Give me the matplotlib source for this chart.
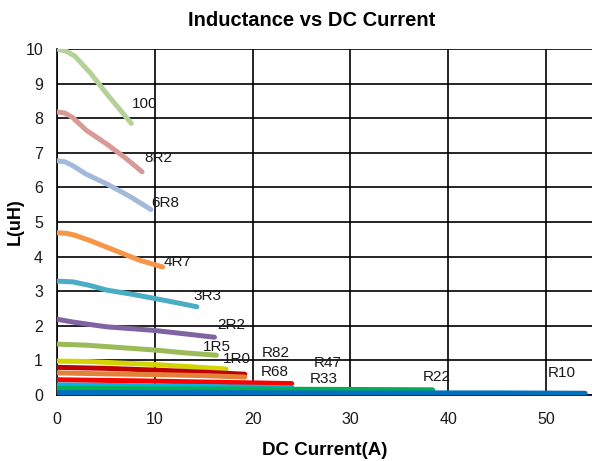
import matplotlib
matplotlib.use("Agg")
import matplotlib.pyplot as plt

plt.rcParams['font.family'] = ['Liberation Sans', 'DejaVu Sans']

# part names and colours (Excel-like palette)
names = ["100", "8R2", "6R8", "4R7", "3R3", "2R2", "1R5", "1R0",
         "R82", "R68", "R47", "R33", "R22", "R10"]
colors = ["#b4d198", "#d99a97", "#a3b9db", "#f79646", "#4bacc6", "#8064a2",
          "#9bbb59", "#d4d400", "#c00000", "#e2813a", "#ff0000", "#00b0f0",
          "#00b050", "#0070c0"]

# current (A) and inductance (uH)
x_100 = [0, 1, 1.8, 3.4, 5.1, 7.6]
y_100 = [10.0, 9.93, 9.8, 9.31, 8.7, 7.85]
x_8r2 = [0, 0.8, 1.6, 3, 5.1, 7, 8.7]
y_8r2 = [8.18, 8.15, 8.02, 7.65, 7.25, 6.85, 6.45]
x_6r8 = [0, 0.8, 1.6, 3, 5.1, 7.5, 9.6]
y_6r8 = [6.77, 6.74, 6.63, 6.38, 6.1, 5.73, 5.36]
x_4r7 = [0, 1, 1.8, 3.5, 5.1, 6.8, 8.5, 10.8]
y_4r7 = [4.69, 4.67, 4.62, 4.45, 4.27, 4.08, 3.89, 3.7]
x_3r3 = [0, 1.6, 3.3, 5.1, 7.5, 9.8, 12, 14.3]
y_3r3 = [3.29, 3.27, 3.17, 3.03, 2.92, 2.8, 2.68, 2.55]
x_2r2 = [0, 1.6, 3.3, 5.1, 7.5, 9.8, 13, 16.1]
y_2r2 = [2.19, 2.11, 2.04, 1.97, 1.92, 1.87, 1.77, 1.67]
x_1r5 = [0, 3, 6, 10, 13, 16.3]
y_1r5 = [1.47, 1.44, 1.38, 1.3, 1.22, 1.15]
x_1r0 = [0, 3, 6, 10, 14, 17.3]
y_1r0 = [0.98, 0.97, 0.93, 0.88, 0.81, 0.75]
x_r82 = [0, 5, 10, 15, 19.2]
y_r82 = [0.8, 0.77, 0.72, 0.66, 0.6]
x_r68 = [0, 5, 10, 15, 19.2]
y_r68 = [0.64, 0.61, 0.59, 0.56, 0.52]
x_r47 = [0, 8, 16, 24]
y_r47 = [0.44, 0.41, 0.37, 0.33]
x_r33 = [0, 8, 16, 24]
y_r33 = [0.29, 0.27, 0.24, 0.21]
x_r22 = [0, 10, 20, 30, 38.4]
y_r22 = [0.19, 0.18, 0.17, 0.16, 0.15]
x_r10 = [0, 15, 30, 45, 54]
y_r10 = [0.07, 0.07, 0.06, 0.06, 0.05]

xs = [x_100, x_8r2, x_6r8, x_4r7, x_3r3, x_2r2, x_1r5, x_1r0,
      x_r82, x_r68, x_r47, x_r33, x_r22, x_r10]
ys = [y_100, y_8r2, y_6r8, y_4r7, y_3r3, y_2r2, y_1r5, y_1r0,
      y_r82, y_r68, y_r47, y_r33, y_r22, y_r10]

# label anchor points (left, centre)
label_x = [7.67, 8.9, 9.6, 10.9, 14.0, 16.4, 14.9, 17.0, 20.9, 20.8, 26.2, 25.8, 37.4, 50.2]
label_y = [8.41, 6.86, 5.56, 3.83, 2.85, 2.02, 1.38, 1.04, 1.21, 0.66, 0.92, 0.46, 0.52, 0.63]

fig = plt.figure(figsize=(5.92, 4.61), dpi=100)
ax = fig.add_axes([57/592, 66/461, 535/592, 346/461])

for x, y, c in zip(xs, ys, colors):
    ax.plot(x, y, color=c, lw=3.6, solid_capstyle='round', solid_joinstyle='round', zorder=3)

for n, lx, ly in zip(names, label_x, label_y):
    ax.text(lx, ly, n, fontsize=11, ha='left', va='center', color='#1a1a1a', zorder=4)

ax.set_xlim(0, 54.7)
ax.set_ylim(0, 10)
ax.set_xticks([0, 10, 20, 30, 40, 50])
ax.set_yticks(range(0, 11))
ax.grid(True, color='black', lw=1.2, zorder=0)
ax.tick_params(length=0, labelsize=11.5, colors='#1a1a1a')
ax.tick_params(axis='x', pad=12)
ax.tick_params(axis='y', pad=10)
for s in ['top', 'right']:
    ax.spines[s].set_visible(False)
for s in ['left', 'bottom']:
    ax.spines[s].set_color('black')
    ax.spines[s].set_linewidth(1.2)

ax.set_xlabel("DC Current(A)", fontsize=13.5, fontweight='bold', labelpad=11)
ax.set_ylabel("L(uH)", fontsize=13, fontweight='bold', labelpad=1)
fig.text(312/592, 1 - 20/461, "Inductance vs DC Current", fontsize=14.5,
         fontweight='bold', ha='center', va='center')

fig.savefig("out.png", dpi=100)
